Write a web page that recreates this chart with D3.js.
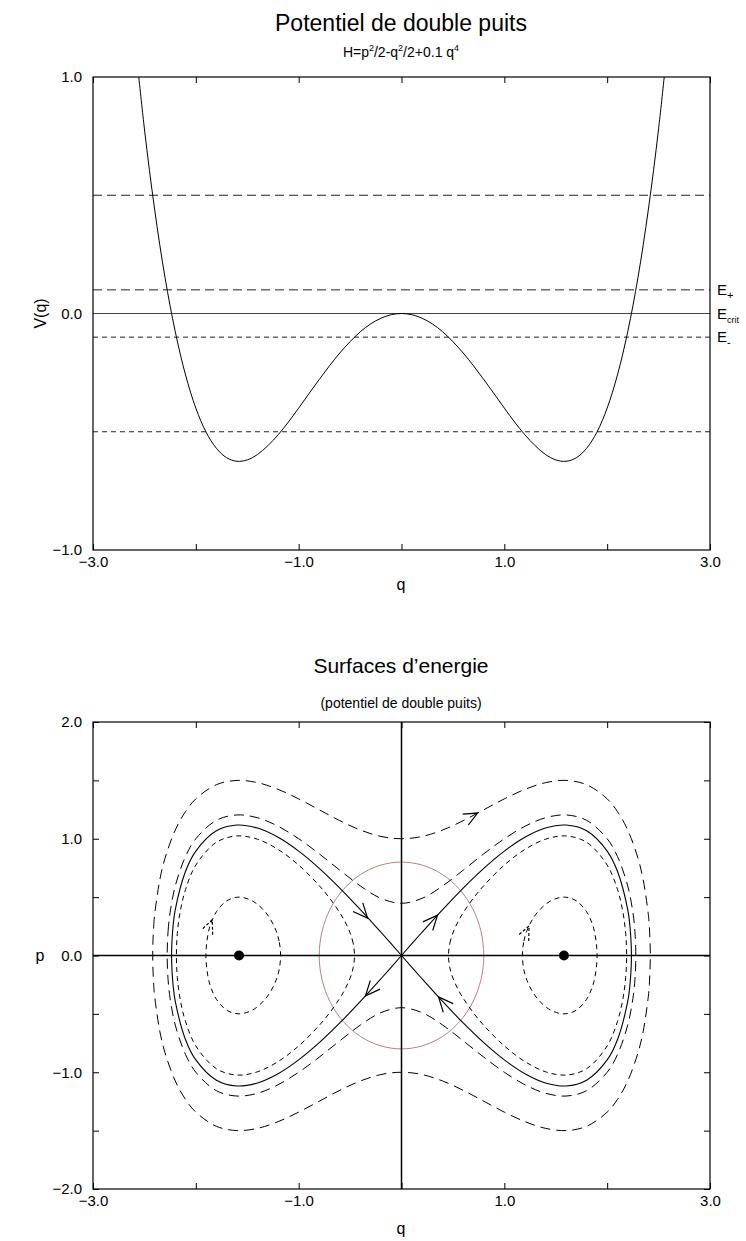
<!DOCTYPE html>
<html>
<head>
<meta charset="utf-8">
<script src="https://cdn.jsdelivr.net/npm/d3@7"></script>
<style>
  html, body { margin: 0; padding: 0; background: #fff; }
  svg { display: block; font-family: "Liberation Sans", Arial, sans-serif; }
</style>
</head>
<body>
<svg id="chart" width="746" height="1241"></svg>
<script>
// ---------------- DATA ----------------
const qTicks = [-3, -2, -1, 0, 1, 2, 3];
const qLabelled = [-3, -1, 1, 3];
const vTicks = [-1, 0, 1];
const pTicks = [-2, -1.5, -1, -0.5, 0, 0.5, 1, 1.5, 2];
const pLabelled = [-2, -1, 0, 1, 2];

// potential V(q)
const potentialQ = [-2.6, -2.5, -2.4, -2.3, -2.2, -2.1, -2.0, -1.9, -1.8, -1.7, -1.6, -1.5, -1.4, -1.3, -1.2, -1.1, -1.0, -0.9, -0.8, -0.7, -0.6, -0.5, -0.4, -0.3, -0.2, -0.1, 0.0,
                    0.1, 0.2, 0.3, 0.4, 0.5, 0.6, 0.7, 0.8, 0.9, 1.0, 1.1, 1.2, 1.3, 1.4, 1.5, 1.6, 1.7, 1.8, 1.9, 2.0, 2.1, 2.2, 2.3, 2.4, 2.5, 2.6];
const potentialV = [1.190, 0.781, 0.438, 0.153, -0.077, -0.260, -0.400, -0.502, -0.570, -0.610, -0.625, -0.619, -0.596, -0.559, -0.513, -0.459, -0.400, -0.339, -0.279, -0.221, -0.167, -0.119, -0.077, -0.044, -0.020, -0.005, 0.000,
                    -0.005, -0.020, -0.044, -0.077, -0.119, -0.167, -0.221, -0.279, -0.339, -0.400, -0.459, -0.513, -0.559, -0.596, -0.619, -0.625, -0.610, -0.570, -0.502, -0.400, -0.260, -0.077, 0.153, 0.438, 0.781, 1.190];

// energy levels (horizontal lines of upper panel)
const energyLevels = [0.5, 0.1, 0.0, -0.1, -0.5];
const energyNames = ["", "+", "crit", "-", ""];

// energy surfaces (phase plane), upper half of each branch for q >= 0
// E = 0.5 (outer, single loop)
const e05Q = [0, 0.2, 0.4, 0.6, 0.8, 1.0, 1.2, 1.4, 1.6, 1.8, 2.0, 2.1, 2.2, 2.3, 2.35, 2.4, 2.41, 2.4195];
const e05P = [1.0, 1.0197, 1.0747, 1.1550, 1.2482, 1.3416, 1.4231, 1.4804, 1.4998, 1.4630, 1.3416, 1.2330, 1.0747, 0.8326, 0.6503, 0.3528, 0.2476, 0];
// E = 0.1 (E+, single loop)
const e01Q = [0, 0.2, 0.4, 0.6, 0.8, 1.0, 1.2, 1.4, 1.6, 1.8, 2.0, 2.1, 2.2, 2.25, 2.27, 2.2787];
const e01P = [0.4472, 0.4896, 0.5957, 0.7308, 0.8707, 1.0, 1.1069, 1.1797, 1.2039, 1.1578, 1.0, 0.8488, 0.5957, 0.3698, 0.2059, 0];
// E = 0 (separatrix)
const e00Q = [0, 0.2, 0.4, 0.6, 0.8, 1.0, 1.2, 1.4, 1.6, 1.8, 2.0, 2.1, 2.2, 2.22, 2.236];
const e00P = [0, 0.1992, 0.3935, 0.5780, 0.7470, 0.8944, 1.0126, 1.0916, 1.1177, 1.0679, 0.8944, 0.7214, 0.3935, 0.2657, 0];
// E = -0.1 (E-, two lobes)
const em01Q = [0.4568, 0.47, 0.5, 0.55, 0.6, 0.7, 0.8, 1.0, 1.2, 1.4, 1.6, 1.8, 2.0, 2.1, 2.15, 2.18, 2.1889];
const em01P = [0, 0.1055, 0.1936, 0.2902, 0.3662, 0.4919, 0.5984, 0.7746, 0.9084, 0.9958, 1.0243, 0.9698, 0.7746, 0.5660, 0.3860, 0.1880, 0];
// E = -0.5 (small ovals)
const em05Q = [1.1756, 1.19, 1.22, 1.28, 1.35, 1.45, 1.58, 1.7, 1.8, 1.85, 1.88, 1.9021];
const em05P = [0, 0.1226, 0.2129, 0.3186, 0.3977, 0.4673, 0.5, 0.4686, 0.3748, 0.2825, 0.1897, 0];

// circle of radius 0.8 (q, p)
const circleQ = [0.8, 0.7727, 0.6928, 0.5657, 0.4, 0.2071, 0, -0.2071, -0.4, -0.5657, -0.6928, -0.7727, -0.8, -0.7727, -0.6928, -0.5657, -0.4, -0.2071, 0, 0.2071, 0.4, 0.5657, 0.6928, 0.7727];
const circleP = [0, 0.2071, 0.4, 0.5657, 0.6928, 0.7727, 0.8, 0.7727, 0.6928, 0.5657, 0.4, 0.2071, 0, -0.2071, -0.4, -0.5657, -0.6928, -0.7727, -0.8, -0.7727, -0.6928, -0.5657, -0.4, -0.2071];

// fixed points (centres of wells)
const fixedQ = [-1.58, 1.58];
const fixedP = [0, 0];

// flow arrows: tip position and flow direction (in data units)
const arrowQ  = [-0.33, 0.35, -0.35, 0.36, 0.74, -1.84, 1.24];
const arrowP  = [0.32, 0.345, -0.345, -0.355, 1.22, 0.307, 0.253];
const arrowDq = [1, 1, -1, -1, 1, 0.307, 0.253];
const arrowDp = [-1, 1, -1, 1, 0.476, 0.65, 0.477];
const arrowKind = ["solid", "solid", "solid", "solid", "long", "short", "short"];

// ---------------- DRAWING ----------------
const svg = d3.select("#chart");
const LONG = "9,5", SHORT = "5,4";
const fmt = d3.format(".1f");

// Upper panel scales
const xT = d3.scaleLinear().domain([-3, 3]).range([93, 710]);
const yT = d3.scaleLinear().domain([-1, 1]).range([550, 77]);
// Lower panel scales
const xB = d3.scaleLinear().domain([-3, 3]).range([93, 710]);
const yB = d3.scaleLinear().domain([-2, 2]).range([1189, 722]);

function frame(g, x, y) {
  g.append("rect")
    .attr("x", x.range()[0]).attr("y", y.range()[1])
    .attr("width", x.range()[1] - x.range()[0])
    .attr("height", y.range()[0] - y.range()[1])
    .attr("fill", "none").attr("stroke", "#000").attr("stroke-width", 1.2);
}

function axes(g, x, y, yTickVals, yLabelVals, showYTicks) {
  const xb = d3.axisBottom(x).tickValues(qTicks).tickSize(-6).tickPadding(6)
    .tickFormat(d => qLabelled.includes(d) ? fmt(d) : "");
  const xt = d3.axisTop(x).tickValues(qTicks).tickSize(-6).tickFormat("");
  const gx = g.append("g").attr("transform", `translate(0,${y.range()[0]})`).call(xb);
  const gxt = g.append("g").attr("transform", `translate(0,${y.range()[1]})`).call(xt);
  const yl = d3.axisLeft(y).tickValues(yTickVals).tickSize(showYTicks ? -6 : 0).tickPadding(11)
    .tickFormat(d => yLabelVals.includes(d) ? fmt(d) : "");
  const yr = d3.axisRight(y).tickValues(yTickVals).tickSize(showYTicks ? -6 : 0).tickFormat("");
  const gy = g.append("g").attr("transform", `translate(${x.range()[0]},0)`).call(yl);
  const gyr = g.append("g").attr("transform", `translate(${x.range()[1]},0)`).call(yr);
  [gx, gxt, gy, gyr].forEach(a => {
    a.select(".domain").remove();
    a.selectAll("line").attr("stroke", "#000");
    a.selectAll("text").attr("font-size", 15).attr("font-family", "Liberation Sans, Arial, sans-serif").attr("fill", "#000");
  });
}

// ---------- Upper panel ----------
const gTop = svg.append("g");
gTop.append("text").attr("x", 401).attr("y", 31).attr("text-anchor", "middle")
  .attr("font-size", 23).text("Potentiel de double puits");
const sub = gTop.append("text").attr("x", 401).attr("y", 57).attr("text-anchor", "middle").attr("font-size", 14);
sub.append("tspan").text("H=p");
sub.append("tspan").attr("dy", -6).attr("font-size", 9).text("2");
sub.append("tspan").attr("dy", 6).text("/2-q");
sub.append("tspan").attr("dy", -6).attr("font-size", 9).text("2");
sub.append("tspan").attr("dy", 6).text("/2+0.1 q");
sub.append("tspan").attr("dy", -6).attr("font-size", 9).text("4");

svg.append("defs").append("clipPath").attr("id", "clipTop")
  .append("rect").attr("x", xT.range()[0]).attr("y", yT.range()[1])
  .attr("width", xT.range()[1] - xT.range()[0]).attr("height", yT.range()[0] - yT.range()[1]);

// energy lines
energyLevels.forEach((e, i) => {
  gTop.append("line")
    .attr("x1", xT(-3)).attr("x2", xT(3)).attr("y1", yT(e)).attr("y2", yT(e))
    .attr("stroke", e === 0 ? "#444" : "#222").attr("stroke-width", e === 0 ? 1.2 : 1)
    .attr("stroke-dasharray", e > 0 ? LONG : (e < 0 ? SHORT : null));
  if (energyNames[i]) {
    const t = gTop.append("text").attr("x", 717).attr("y", yT(e) + 5).attr("font-size", 15);
    t.append("tspan").text("E");
    t.append("tspan").attr("dy", 4).attr("font-size", energyNames[i] === "crit" ? 9 : 11).text(energyNames[i]);
  }
});

// potential curve
const potPts = potentialQ.map((q, i) => [q, potentialV[i]]);
gTop.append("path")
  .attr("clip-path", "url(#clipTop)")
  .attr("d", d3.line().x(d => xT(d[0])).y(d => yT(d[1])).curve(d3.curveCatmullRom)(potPts))
  .attr("fill", "none").attr("stroke", "#000").attr("stroke-width", 1);

frame(gTop, xT, yT);
axes(gTop, xT, yT, vTicks, vTicks, false);

gTop.append("text").attr("x", 401).attr("y", 590).attr("text-anchor", "middle").attr("font-size", 16).text("q");
gTop.append("text").attr("transform", `translate(46,${yT(0)}) rotate(-90)`).attr("text-anchor", "middle")
  .attr("font-size", 16).text("V(q)");

// ---------- Lower panel ----------
const gBot = svg.append("g");
gBot.append("text").attr("x", 401).attr("y", 673).attr("text-anchor", "middle")
  .attr("font-size", 21).text("Surfaces d\u2019energie");
gBot.append("text").attr("x", 401).attr("y", 708).attr("text-anchor", "middle")
  .attr("font-size", 14).text("(potentiel de double puits)");

const lineB = d3.line().x(d => xB(d[0])).y(d => yB(d[1]));

// helper: quarter (q>=0, p>=0) -> full closed loop symmetric in q and p
function fullLoop(Q, P) {
  const upper = [];
  for (let i = Q.length - 1; i > 0; i--) upper.push([-Q[i], P[i]]);
  for (let i = 0; i < Q.length; i++) upper.push([Q[i], P[i]]);
  const lower = [];
  for (let i = upper.length - 2; i > 0; i--) lower.push([upper[i][0], -upper[i][1]]);
  return upper.concat(lower);
}
// helper: upper half of a lobe -> closed lobe, mirrored to side s (+1 / -1)
function lobe(Q, P, s) {
  const upper = Q.map((q, i) => [s * q, P[i]]);
  const lower = [];
  for (let i = Q.length - 2; i > 0; i--) lower.push([s * Q[i], -P[i]]);
  return upper.concat(lower);
}

function drawClosed(pts, dash, color, w) {
  gBot.append("path").attr("d", lineB.curve(d3.curveCatmullRomClosed)(pts))
    .attr("fill", "none").attr("stroke", color).attr("stroke-width", w)
    .attr("stroke-dasharray", dash);
}

// red circle
drawClosed(circleQ.map((q, i) => [q, circleP[i]]), null, "#b88282", 1);

// E = 0.5 and 0.1
drawClosed(fullLoop(e05Q, e05P), "10,6", "#000", 1);
drawClosed(fullLoop(e01Q, e01P), "10,6", "#000", 1);
// E = -0.1 and -0.5 lobes
[-1, 1].forEach(s => {
  drawClosed(lobe(em01Q, em01P, s), SHORT, "#000", 1);
  drawClosed(lobe(em05Q, em05P, s), SHORT, "#000", 1);
});
// separatrix: open paths through origin
[-1, 1].forEach(s => {
  const upper = e00Q.map((q, i) => [s * q, e00P[i]]);
  const lower = [];
  for (let i = e00Q.length - 2; i >= 0; i--) lower.push([s * e00Q[i], -e00P[i]]);
  gBot.append("path").attr("d", lineB.curve(d3.curveCatmullRom)(upper.concat(lower)))
    .attr("fill", "none").attr("stroke", "#000").attr("stroke-width", 1.1);
});

// coordinate axes through origin
gBot.append("line").attr("x1", xB(-3)).attr("x2", xB(3)).attr("y1", yB(0)).attr("y2", yB(0))
  .attr("stroke", "#000").attr("stroke-width", 1.5);
gBot.append("line").attr("x1", xB(0)).attr("x2", xB(0)).attr("y1", yB(2)).attr("y2", yB(-2))
  .attr("stroke", "#000").attr("stroke-width", 1.5);

// fixed points
gBot.selectAll("circle.fp").data(fixedQ).enter().append("circle")
  .attr("cx", d => xB(d)).attr("cy", (d, i) => yB(fixedP[i])).attr("r", 5).attr("fill", "#000");

// arrows (open V heads)
arrowQ.forEach((q, i) => {
  const tx = xB(q), ty = yB(arrowP[i]);
  const dx = xB(q + arrowDq[i]) - tx, dy = yB(arrowP[i] + arrowDp[i]) - ty;
  const back = Math.atan2(-dy, -dx);
  const L = arrowKind[i] === "solid" ? 16 : 15, a = 24 * Math.PI / 180;
  const pts = [-1, 1].map(s => [tx + L * Math.cos(back + s * a), ty + L * Math.sin(back + s * a)]);
  gBot.append("path")
    .attr("d", `M${pts[0][0]},${pts[0][1]}L${tx},${ty}L${pts[1][0]},${pts[1][1]}`)
    .attr("fill", "none").attr("stroke", "#000").attr("stroke-width", 1.2)
    .attr("stroke-dasharray", arrowKind[i] === "short" ? "3,2" : null);
});

frame(gBot, xB, yB);
axes(gBot, xB, yB, pTicks, pLabelled, true);

gBot.append("text").attr("x", 401).attr("y", 1234).attr("text-anchor", "middle").attr("font-size", 16).text("q");
gBot.append("text").attr("x", 40).attr("y", yB(0) + 5).attr("text-anchor", "middle").attr("font-size", 16).text("p");
</script>
</body>
</html>
